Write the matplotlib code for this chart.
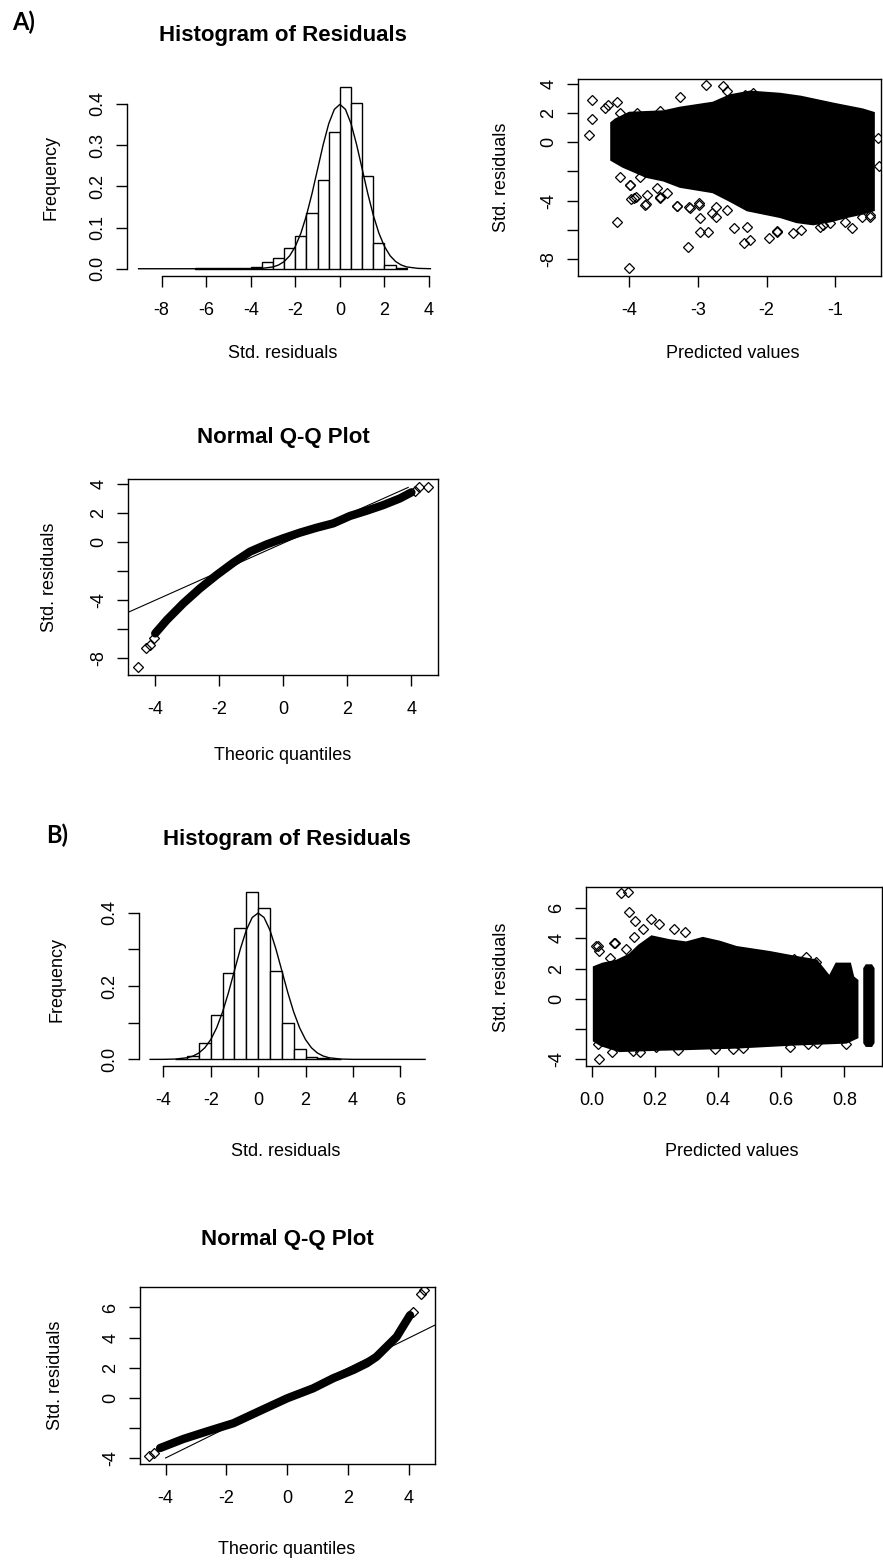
import matplotlib
matplotlib.use("Agg")
import matplotlib.pyplot as plt
from matplotlib.ticker import FixedLocator, FixedFormatter

plt.rcParams["font.family"] = ["Liberation Sans", "DejaVu Sans"]

W, H = 883, 1566

# --------------------------------------------------------
# DATA
# --------------------------------------------------------
# A) histogram of residuals, bins of 0.5 (left edges) and densities
hist_a_left = [-6.5, -6.0, -5.5, -5.0, -4.5, -4.0, -3.5, -3.0, -2.5, -2.0, -1.5, -1.0,
               -0.5, 0.0, 0.5, 1.0, 1.5, 2.0, 2.5]
hist_a_dens = [0.001, 0.001, 0.001, 0.001, 0.0015, 0.004, 0.016, 0.027, 0.051, 0.080,
               0.135, 0.216, 0.331, 0.442, 0.402, 0.225, 0.062, 0.010, 0.002]

# normal density curve as seen on both histograms
curve_a_x = [-9.03, -4.5, -4.0, -3.5, -3.0, -2.75, -2.5, -2.25, -2.0, -1.75, -1.5, -1.25,
             -1.0, -0.75, -0.5, -0.25, 0.0, 0.25, 0.5, 0.75, 1.0, 1.25, 1.5, 1.75, 2.0,
             2.25, 2.5, 2.75, 3.0, 3.5, 4.06]
curve_a_y = [0.0, 0.0, 0.0001, 0.0009, 0.0044, 0.0091, 0.0175, 0.0317, 0.054, 0.0863,
             0.1295, 0.1826, 0.242, 0.3011, 0.3521, 0.3867, 0.3989, 0.3867, 0.3521,
             0.3011, 0.242, 0.1826, 0.1295, 0.0863, 0.054, 0.0317, 0.0175, 0.0091,
             0.0044, 0.0009, 0.0001]

# A) predicted vs residuals: outline of the solid cloud + visible single points
cloud_a_x = [-4.26, -4.26, -4.2, -4.0, -3.5, -3.26, -2.78, -2.53, -2.24, -1.8, -1.5,
             -1.0, -0.6, -0.44, -0.44, -0.6, -0.83, -1.07, -1.32, -1.56, -1.8, -2.04,
             -2.28, -2.53, -2.78, -3.26, -3.5, -3.75, -4.09]
cloud_a_y = [-1.2, 1.32, 1.55, 2.0, 2.1, 2.35, 2.69, 3.2, 3.45, 3.3, 3.1,
             2.6, 2.23, 2.0, -4.64, -4.87, -5.1, -5.4, -5.6, -5.45, -5.1, -4.87,
             -4.64, -4.0, -3.4, -3.03, -2.6, -2.35, -1.66]
pts_a_x = [-4.59, -4.55, -4.55, -4.36, -4.31, -4.18, -4.18, -4.0, -3.99, -3.98, -3.9,
           -3.76, -3.56, -3.31, -3.26, -3.13, -3.15, -2.99, -2.97, -2.88, -2.85, -2.73,
           -2.64, -2.57, -2.48, -2.33, -2.24, -1.97, -1.84, -1.62, -1.49, -1.17, -0.86,
           -0.76, -0.61, -0.49, -0.38, -0.36, -2.31, -2.19,
           -4.14, -3.99, -3.94, -3.75, -3.77, -3.55, -3.31, -3.12, -2.99, -2.97, -3.84,
           -3.6, -3.45, -2.8, -2.73, -2.58, -4.14, -3.89, -3.55, -1.22, -2.29, -1.85,
           -1.07, -0.49]
pts_a_y = [0.47, 1.59, 2.88, 2.35, 2.58, 2.76, -5.44, -8.64, -2.92, -3.9, -3.72,
           -4.22, -3.76, -4.34, 3.1, -4.41, -7.2, -4.18, -6.12, 3.95, -6.12, -5.09,
           3.84, 3.5, -5.9, -6.93, -6.7, -6.58, -6.06, -6.24, -6.01, -5.67, -5.44,
           -5.9, -5.1, -5.1, 0.29, -1.66, 3.27, 3.38,
           -2.35, -2.92, -3.83, -3.61, -4.29, -3.83, -4.36, -4.52, -4.29, -5.21, -2.35,
           -3.15, -3.49, -4.86, -4.41, -4.64, 2.0, 2.0, 2.12, -5.78, -5.78, -6.12,
           -5.55, -4.98]

# A) normal Q-Q plot
qq_a_x = [-4.0, -3.64, -3.12, -2.6, -2.08, -1.56, -1.04, -0.52, 0.0, 0.52, 1.04, 1.56,
          2.08, 2.6, 3.12, 3.64, 4.0]
qq_a_y = [-6.28, -5.36, -4.2, -3.17, -2.25, -1.4, -0.64, -0.14, 0.28, 0.67, 1.01, 1.31,
          1.82, 2.18, 2.57, 3.03, 3.45]
qq_a_out_x = [-4.54, -4.29, -4.16, -4.05, 4.1, 4.24, 4.52]
qq_a_out_y = [-8.62, -7.31, -7.08, -6.62, 3.54, 3.84, 3.84]
qqline_a_x = [-4.85, 3.9]
qqline_a_y = [-4.83, 3.79]

# B) histogram of residuals
hist_b_left = [-3.5, -3.0, -2.5, -2.0, -1.5, -1.0, -0.5, 0.0, 0.5, 1.0, 1.5, 2.0, 2.5, 3.0]
hist_b_dens = [0.002, 0.010, 0.046, 0.121, 0.235, 0.357, 0.455, 0.412, 0.242, 0.100,
               0.029, 0.007, 0.003, 0.001]

curve_b_x = [-4.56, -4.0, -3.5, -3.0, -2.75, -2.5, -2.25, -2.0, -1.75, -1.5, -1.25,
             -1.0, -0.75, -0.5, -0.25, 0.0, 0.25, 0.5, 0.75, 1.0, 1.25, 1.5, 1.75, 2.0,
             2.25, 2.5, 2.75, 3.0, 3.5, 4.0, 7.05]
curve_b_y = [0.0, 0.0001, 0.0009, 0.0044, 0.0091, 0.0175, 0.0317, 0.054, 0.0863,
             0.1295, 0.1826, 0.242, 0.3011, 0.3521, 0.3867, 0.3989, 0.3867, 0.3521,
             0.3011, 0.242, 0.1826, 0.1295, 0.0863, 0.054, 0.0317, 0.0175, 0.0091,
             0.0044, 0.0009, 0.0001, 0.0]

# B) predicted vs residuals
cloud_b_x = [0.008, 0.008, 0.035, 0.08, 0.12, 0.15, 0.19, 0.246, 0.299, 0.352, 0.405,
             0.458, 0.563, 0.648, 0.711, 0.753, 0.775, 0.817, 0.827, 0.84, 0.84, 0.806,
             0.64, 0.458, 0.3, 0.2, 0.088, 0.03]
cloud_b_y = [-2.76, 2.08, 2.3, 2.5, 2.9, 3.5, 4.1, 3.85, 3.7, 4.0, 3.75,
             3.4, 3.07, 2.74, 2.52, 1.42, 2.3, 2.3, 1.42, 1.2, -2.54, -2.87,
             -3.0, -3.2, -3.3, -3.35, -3.43, -3.05]
cloud_b2_x = [0.864, 0.870, 0.885, 0.891, 0.891, 0.885, 0.870, 0.864]
cloud_b2_y = [2.0, 2.19, 2.19, 2.0, -2.9, -3.09, -3.09, -2.9]
pts_b_x = [0.093, 0.114, 0.119, 0.138, 0.188, 0.162, 0.214, 0.262, 0.294, 0.072, 0.019,
           0.024, 0.058, 0.109, 0.135, 0.024, 0.019, 0.064, 0.13, 0.204, 0.273, 0.447,
           0.479, 0.627, 0.685, 0.806, 0.68, 0.711, 0.642, 0.013, 0.074, 0.153, 0.391,
           0.713]
pts_b_y = [6.97, 7.04, 5.72, 5.17, 5.27, 4.61, 4.95, 4.61, 4.4, 3.67, 3.52,
           3.19, 2.7, 3.29, 4.06, -3.98, -2.99, -3.54, -3.43, -3.2, -3.36, -3.32,
           -3.25, -3.16, -3.0, -2.99, 2.74, 2.41, 2.63, 3.47, 3.69, -3.51, -3.29,
           -2.92]

# B) normal Q-Q plot
qq_b_x = [-4.18, -3.42, -2.65, -1.77, -0.9, 0.0, 0.85, 1.51, 2.17, 2.61, 2.93, 3.26,
          3.59, 3.86, 4.03]
qq_b_y = [-3.34, -2.74, -2.24, -1.69, -0.87, -0.03, 0.63, 1.3, 1.85, 2.29, 2.73, 3.39,
          4.05, 4.94, 5.49]
qq_b_out_x = [-4.56, -4.38, 4.14, 4.38, 4.49]
qq_b_out_y = [-3.9, -3.67, 5.71, 6.92, 7.19]
qqline_b_x = [-4.0, 4.85]
qqline_b_y = [-4.0, 4.83]


# --------------------------------------------------------
# HELPERS
# --------------------------------------------------------
def px_axes(fig, left, top, right, bottom):
    return fig.add_axes([left / W, 1 - bottom / H, (right - left) / W, (bottom - top) / H])


def ftext(fig, x, y, s, **kw):
    kw.setdefault("ha", "center")
    kw.setdefault("va", "center")
    fig.text(x / W, 1 - y / H, s, **kw)


def style_axes(ax, xticks, xlabels, yticks, ylabels, box=True):
    ax.xaxis.set_major_locator(FixedLocator(xticks))
    ax.xaxis.set_major_formatter(FixedFormatter(xlabels))
    ax.yaxis.set_major_locator(FixedLocator(yticks))
    ax.yaxis.set_major_formatter(FixedFormatter(ylabels))
    ax.tick_params(direction="out", length=8, width=1.0, labelsize=13)
    ax.tick_params(axis="x", pad=11)
    ax.tick_params(axis="y", pad=7)
    for lab in ax.get_yticklabels():
        lab.set_rotation(90)
        lab.set_va("center")
    for s in ax.spines.values():
        s.set_linewidth(1.0)
    if not box:
        ax.spines["top"].set_visible(False)
        ax.spines["right"].set_visible(False)
        ax.spines["bottom"].set_bounds(xticks[0], xticks[-1])
        ax.spines["left"].set_bounds(yticks[0], yticks[-1])


fig = plt.figure(figsize=(W / 100, H / 100), dpi=100)
fig.patch.set_facecolor("white")

mk = dict(marker="D", mfc="none", mec="black", mew=0.9, ms=5.5, ls="none")

# ---------------- A) histogram ----------------
ax = px_axes(fig, 127, 80, 442, 276)
ax.bar(hist_a_left, hist_a_dens, width=0.5, align="edge", color="white",
       edgecolor="black", linewidth=1.0)
ax.plot(curve_a_x, curve_a_y, color="black", lw=1.0)
ax.set_xlim(-9.55, 4.58)
ax.set_ylim(-0.0176, 0.458)
style_axes(ax, [-8, -6, -4, -2, 0, 2, 4], ["-8", "-6", "-4", "-2", "0", "2", "4"],
           [0, 0.1, 0.2, 0.3, 0.4], ["0.0", "0.1", "0.2", "0.3", "0.4"], box=False)

# ---------------- A) scatter ----------------
ax = px_axes(fig, 578, 79, 881, 276)
ax.fill(cloud_a_x, cloud_a_y, color="black", lw=2)
ax.plot(pts_a_x, pts_a_y, **mk)
ax.set_xlim(-4.75, -0.33)
ax.set_ylim(-9.17, 4.34)
style_axes(ax, [-4, -3, -2, -1], ["-4", "-3", "-2", "-1"],
           [-8, -6, -4, -2, 0, 2, 4], ["-8", "", "-4", "", "0", "2", "4"])

# ---------------- A) QQ ----------------
ax = px_axes(fig, 128, 479, 438, 675)
ax.plot(qqline_a_x, qqline_a_y, color="black", lw=0.8)
ax.plot(qq_a_x, qq_a_y, color="black", lw=6, solid_capstyle="round")
ax.plot(qq_a_out_x, qq_a_out_y, **mk)
ax.set_xlim(-4.85, 4.83)
ax.set_ylim(-9.15, 4.37)
style_axes(ax, [-4, -2, 0, 2, 4], ["-4", "-2", "0", "2", "4"],
           [-8, -6, -4, -2, 0, 2, 4], ["-8", "", "-4", "", "0", "2", "4"])

# ---------------- B) histogram ----------------
ax = px_axes(fig, 139, 884, 436, 1066)
ax.bar(hist_b_left, hist_b_dens, width=0.5, align="edge", color="white",
       edgecolor="black", linewidth=1.0)
ax.plot(curve_b_x, curve_b_y, color="black", lw=1.0)
ax.set_xlim(-5.03, 7.51)
ax.set_ylim(-0.018, 0.478)
style_axes(ax, [-4, -2, 0, 2, 4, 6], ["-4", "-2", "0", "2", "4", "6"],
           [0, 0.1, 0.2, 0.3, 0.4], ["0.0", "", "0.2", "", "0.4"], box=False)

# ---------------- B) scatter ----------------
ax = px_axes(fig, 586, 887, 882, 1066)
ax.fill(cloud_b_x, cloud_b_y, color="black", lw=2)
ax.fill(cloud_b2_x, cloud_b2_y, color="black", lw=2)
ax.plot(pts_b_x, pts_b_y, **mk)
ax.set_xlim(-0.018, 0.919)
ax.set_ylim(-4.44, 7.39)
style_axes(ax, [0.0, 0.2, 0.4, 0.6, 0.8], ["0.0", "0.2", "0.4", "0.6", "0.8"],
           [-4, -2, 0, 2, 4, 6], ["-4", "", "0", "2", "4", "6"])

# ---------------- B) QQ ----------------
ax = px_axes(fig, 140, 1287, 435, 1464)
ax.plot(qqline_b_x, qqline_b_y, color="black", lw=0.8)
ax.plot(qq_b_x, qq_b_y, color="black", lw=6, solid_capstyle="round")
ax.plot(qq_b_out_x, qq_b_out_y, **mk)
ax.set_xlim(-4.84, 4.85)
ax.set_ylim(-4.4, 7.36)
style_axes(ax, [-4, -2, 0, 2, 4], ["-4", "-2", "0", "2", "4"],
           [-4, -2, 0, 2, 4, 6], ["-4", "", "0", "2", "4", "6"])

# ---------------- titles / labels ----------------
ttl = dict(fontsize=16, fontweight="bold")
lab = dict(fontsize=13)
ftext(fig, 283, 36, "Histogram of Residuals", **ttl)
ftext(fig, 283, 437, "Normal Q-Q Plot", **ttl)
ftext(fig, 287, 840, "Histogram of Residuals", **ttl)
ftext(fig, 287, 1240, "Normal Q-Q Plot", **ttl)

ftext(fig, 283, 353, "Std. residuals", **lab)
ftext(fig, 733, 353, "Predicted values", **lab)
ftext(fig, 283, 755, "Theoric quantiles", **lab)
ftext(fig, 286, 1152, "Std. residuals", **lab)
ftext(fig, 732, 1152, "Predicted values", **lab)
ftext(fig, 287, 1550, "Theoric quantiles", **lab)

ftext(fig, 51, 177, "Frequency", rotation=90, **lab)
ftext(fig, 502, 177, "Std. residuals", rotation=90, **lab)
ftext(fig, 50, 577, "Std. residuals", rotation=90, **lab)
ftext(fig, 57, 980, "Frequency", rotation=90, **lab)
ftext(fig, 502, 977, "Std. residuals", rotation=90, **lab)
ftext(fig, 55, 1375, "Std. residuals", rotation=90, **lab)

ftext(fig, 24, 22, "A)", fontsize=17, fontweight="bold", family=["Lato", "DejaVu Sans"])
ftext(fig, 57, 835, "B)", fontsize=17, fontweight="bold", family=["Lato", "DejaVu Sans"])

fig.savefig("out.png", dpi=100, facecolor="white")
